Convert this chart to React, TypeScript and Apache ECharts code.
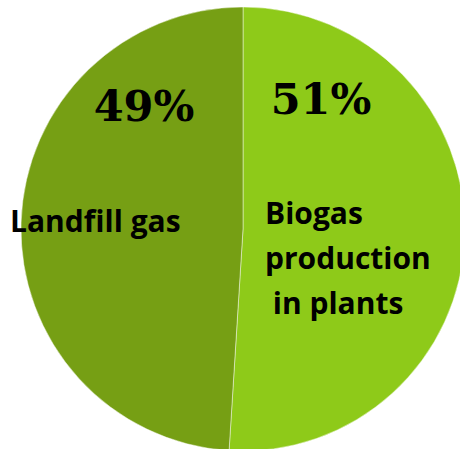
import React, { useEffect, useRef } from "react";
import * as echarts from "echarts";

const categories = ["Biogas production in plants", "Landfill gas"];
const shares = [51, 49];
const colors = ["#8ECA19", "#769F14"];

export default function App() {
  const ref = useRef<HTMLDivElement>(null);
  useEffect(() => {
    if (!ref.current) return;
    const chart = echarts.init(ref.current, undefined, { renderer: "svg" });
    const pctFont = {
      fontFamily: "DejaVu Serif",
      fontWeight: "bold" as const,
      fontSize: 43,
      fill: "#000",
    };
    const nameFont = {
      fontFamily: "Open Sans",
      fontWeight: "bold" as const,
      fontSize: 30,
      fill: "#000",
    };
    chart.setOption({
      animation: false,
      backgroundColor: "#ffffff",
      series: [
        {
          type: "pie",
          center: [243, 229],
          radius: 222,
          startAngle: 90,
          clockwise: true,
          z: 1,
          label: { show: false },
          labelLine: { show: false },
          silent: true,
          itemStyle: { borderColor: "rgba(255,255,255,0.45)", borderWidth: 1 },
          data: categories.map((c, i) => ({
            name: c,
            value: shares[i],
            itemStyle: { color: colors[i] },
          })),
        },
      ],
      graphic: {
        elements: [
          {
            type: "text",
            z: 100,
            x: 321,
            y: 99,
            style: { ...pctFont, text: `${shares[0]}%`, align: "center", verticalAlign: "middle" },
          },
          {
            type: "text",
            z: 100,
            x: 144,
            y: 106,
            style: { ...pctFont, text: `${shares[1]}%`, align: "center", verticalAlign: "middle" },
          },
          {
            type: "text",
            z: 100,
            x: 10,
            y: 220,
            style: { ...nameFont, text: categories[1], align: "left", verticalAlign: "middle" },
          },
          {
            type: "text",
            z: 100,
            x: 265,
            y: 257,
            style: {
              ...nameFont,
              text: "Biogas\nproduction\n in plants",
              lineHeight: 45,
              align: "left",
              verticalAlign: "middle",
            },
          },
        ],
      },
    });
    return () => chart.dispose();
  }, []);
  return (
    <div
      ref={ref}
      style={{ position: "fixed", left: 0, top: 0, width: 460, height: 449 }}
    />
  );
}
